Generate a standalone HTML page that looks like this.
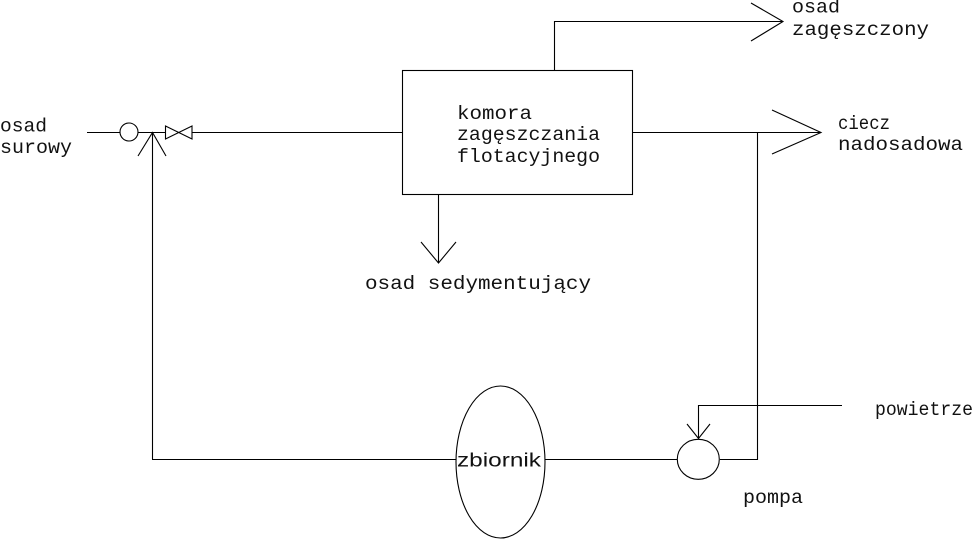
<!DOCTYPE html>
<html>
<head>
<meta charset="utf-8">
<style>
html,body{margin:0;padding:0;background:#fff;}
svg{display:block;}
text{font-family:"Liberation Mono","DejaVu Sans Mono",monospace;font-size:19px;fill:#111;}
</style>
</head>
<body>
<svg width="978" height="539" viewBox="0 0 978 539" xmlns="http://www.w3.org/2000/svg">
<g fill="none" stroke="#000" stroke-width="1.1">
  <!-- left inlet -->
  <line x1="87" y1="132.5" x2="120" y2="132.5"/>
  <circle cx="129" cy="132" r="9"/>
  <line x1="138" y1="132.5" x2="165" y2="132.5"/>
  <!-- valve -->
  <polygon points="165.5,126 192,139 192,126 165.5,139"/>
  <line x1="192" y1="132.5" x2="402" y2="132.5"/>
  <!-- recirculation vertical with arrow -->
  <line x1="152.5" y1="132" x2="152.5" y2="459"/>
  <polyline points="138,156 152.5,132.5 166,156"/>
  <!-- box -->
  <rect x="402.5" y="70.5" width="230" height="124"/>
  <!-- top outlet -->
  <polyline points="554.5,70 554.5,21.5 783,21.5"/>
  <polyline points="751,3 783,21.5 751,41"/>
  <!-- right outlet -->
  <line x1="632" y1="132.5" x2="821" y2="132.5"/>
  <polyline points="772,110 821,132.5 772,154"/>
  <polyline points="757.5,132 757.5,459.5 720,459.5"/>
  <!-- bottom sediment -->
  <line x1="438.5" y1="194" x2="438.5" y2="263"/>
  <polyline points="421,242 438.5,263 456,242"/>
  <!-- bottom line -->
  <line x1="152" y1="459.5" x2="456" y2="459.5"/>
  <ellipse cx="500.5" cy="462" rx="44.5" ry="76"/>
  <line x1="545" y1="459.5" x2="677" y2="459.5"/>
  <!-- pump -->
  <ellipse cx="698.3" cy="459.3" rx="21" ry="20"/>
  <!-- air -->
  <polyline points="842,405.5 698.5,405.5 698.5,438"/>
  <polyline points="687,424 698.5,438.5 710,424"/>
</g>
<g>
  <text x="0" y="131.5" textLength="47" lengthAdjust="spacingAndGlyphs">osad</text>
  <text x="0" y="153" textLength="72" lengthAdjust="spacingAndGlyphs">surowy</text>
  <text x="457" y="119" textLength="75" lengthAdjust="spacingAndGlyphs">komora</text>
  <text x="457" y="140" textLength="143" lengthAdjust="spacingAndGlyphs">zagęszczania</text>
  <text x="457" y="162" textLength="143" lengthAdjust="spacingAndGlyphs">flotacyjnego</text>
  <text x="792" y="12.5" textLength="48" lengthAdjust="spacingAndGlyphs">osad</text>
  <text x="792" y="35" textLength="137" lengthAdjust="spacingAndGlyphs">zagęszczony</text>
  <text x="838" y="129" textLength="52" lengthAdjust="spacingAndGlyphs">ciecz</text>
  <text x="838" y="150" textLength="125" lengthAdjust="spacingAndGlyphs">nadosadowa</text>
  <text x="365" y="289" textLength="226" lengthAdjust="spacingAndGlyphs">osad sedymentujący</text>
  <text x="875" y="415" textLength="98" lengthAdjust="spacingAndGlyphs">powietrze</text>
  <text x="743" y="503" textLength="60" lengthAdjust="spacingAndGlyphs">pompa</text>
  <text x="457" y="466.5" textLength="84" lengthAdjust="spacingAndGlyphs" style="font-family:'Liberation Sans',sans-serif;font-size:19px">zbiornik</text>
</g>
</svg>
</body>
</html>
